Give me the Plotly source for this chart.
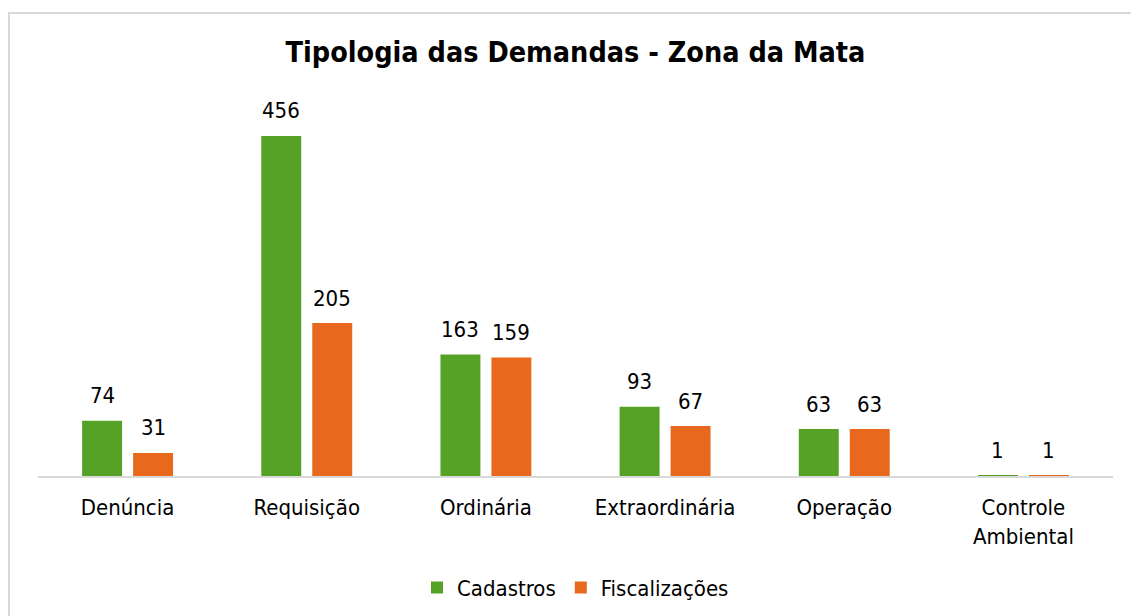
import plotly.graph_objects as go

categorias = ["Denúncia", "Requisição", "Ordinária", "Extraordinária", "Operação", "Controle<br>Ambiental"]
cadastros = [74, 456, 163, 93, 63, 1]
fiscalizacoes = [31, 205, 159, 67, 63, 1]

FONTE = "DejaVu Sans Condensed, Tahoma, DejaVu Sans, sans-serif"
VERDE = "#56A227"
LARANJA = "#E8691D"

fig = go.Figure()
fig.add_trace(go.Bar(
    name="Cadastros", x=categorias, y=cadastros, marker_color=VERDE,
    marker_line_width=0,
))
fig.add_trace(go.Bar(
    name="Fiscalizações", x=categorias, y=fiscalizacoes, marker_color=LARANJA,
    marker_line_width=0,
))

# rótulos de valor acima de cada barra (deslocados para o centro de cada barra do grupo)
anotacoes = []
for serie, deslocamento in ((cadastros, -25.5), (fiscalizacoes, 25.5)):
    for cat, valor in zip(categorias, serie):
        anotacoes.append(dict(
            x=cat, y=valor, xref="x", yref="y", text=str(valor),
            showarrow=False, xshift=deslocamento, yshift=25,
            xanchor="center", yanchor="middle",
            font=dict(size=22, color="#000000", family=FONTE),
        ))

fig.update_layout(
    width=1131, height=616,
    margin=dict(l=38, r=18, t=80, b=140, autoexpand=False),
    paper_bgcolor="white", plot_bgcolor="white",
    font=dict(family=FONTE, size=22, color="#000000"),
    barmode="group", bargap=0.431, bargroupgap=0.216,
    title=dict(
        text="<b>Tipologia das Demandas - Zona da Mata</b>",
        x=0.5, xref="paper", xanchor="center",
        y=1 - 52 / 616, yanchor="middle", yref="container",
        font=dict(size=28.5, family=FONTE, color="#000000"),
    ),
    xaxis=dict(
        showline=True, linecolor="#D9D9D9", linewidth=2,
        ticks="", showgrid=False, tickfont=dict(size=22),
        ticklabelstandoff=11, automargin=False,
    ),
    yaxis=dict(visible=False, range=[0, 531], showgrid=False, automargin=False),
    legend=dict(
        orientation="h", x=0.5, xanchor="center", y=-0.282, yanchor="middle",
        font=dict(size=22), itemwidth=30,
    ),
    annotations=anotacoes,
    shapes=[dict(
        type="rect", xref="paper", yref="paper",
        x0=-29 / 1075, x1=1.2, y0=-0.6, y1=(476 - 13) / 396,
        line=dict(color="#D9D9D9", width=2), fillcolor="rgba(0,0,0,0)",
        layer="below",
    )],
)

fig.write_html("out.html")
